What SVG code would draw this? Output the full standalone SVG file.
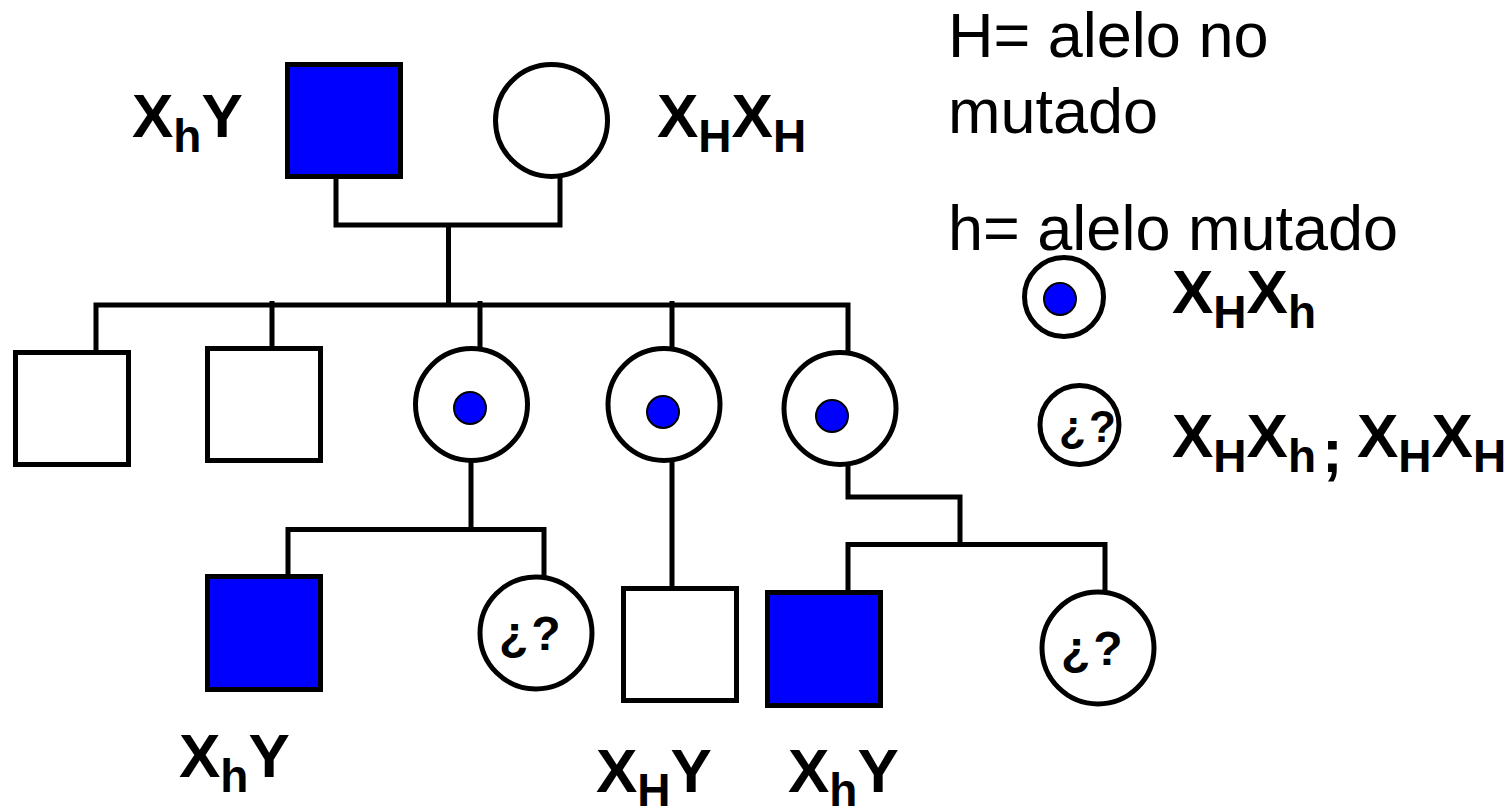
<svg xmlns="http://www.w3.org/2000/svg" width="1508" height="811" viewBox="0 0 1508 811">
  <style>
    .ln{fill:none;stroke:#000;stroke-width:5}
    .shape{stroke:#000;stroke-width:5}
    .aff{fill:#0000FF}
    .unaff{fill:#FFFFFF}
    .dot{fill:#0000FF;stroke:#000;stroke-width:2}
    .lbl{font-family:"Liberation Sans",Arial,sans-serif;font-weight:bold;font-size:62px;fill:#000}
    .sub{font-size:46px}
    .q{font-family:"Liberation Sans",Arial,sans-serif;font-weight:bold;font-size:48px;fill:#000}
    .leg{font-family:"Liberation Sans",Arial,sans-serif;font-size:63px;fill:#000}
  </style>
  <rect width="1508" height="811" fill="#FFFFFF"/>

  <!-- lines of descent -->
  <g id="connectors" class="ln">
    <polyline points="336,176 336,225 560,225 560,176"/>
    <line x1="448.5" y1="225" x2="448.5" y2="305"/>
    <polyline points="96,352 96,305 848,305 848,352"/>
    <line x1="272" y1="301" x2="272" y2="348"/>
    <line x1="480" y1="301" x2="480" y2="349"/>
    <line x1="672" y1="301" x2="672" y2="349"/>
    <line x1="471" y1="460" x2="471" y2="529.5"/>
    <polyline points="288,576 288,529.5 544,529.5 544,577"/>
    <line x1="672" y1="460" x2="672" y2="588"/>
    <polyline points="848,464 848,497 960,497 960,544.5"/>
    <polyline points="848,592 848,544.5 1105,544.5 1105,592"/>
  </g>

  <!-- generation I -->
  <g id="father">
    <rect class="shape aff" x="287.5" y="64.5" width="113" height="112"/>
    <text class="lbl" x="132" y="137">X<tspan class="sub" dy="15">h</tspan><tspan dy="-15">Y</tspan></text>
  </g>
  <g id="mother">
    <circle class="shape unaff" cx="551.5" cy="120.5" r="56"/>
    <text class="lbl" x="657" y="137">X<tspan class="sub" dy="15">H</tspan><tspan dy="-15">X</tspan><tspan class="sub" dy="15">H</tspan></text>
  </g>

  <!-- generation II -->
  <g id="son1">
    <rect class="shape unaff" x="15.5" y="352.5" width="113" height="112"/>
  </g>
  <g id="son2">
    <rect class="shape unaff" x="207.5" y="348.5" width="113" height="112"/>
  </g>
  <g id="daughter1">
    <circle class="shape unaff" cx="471.5" cy="404.5" r="56"/>
    <circle class="dot" cx="470" cy="408" r="16"/>
  </g>
  <g id="daughter2">
    <circle class="shape unaff" cx="664" cy="404.5" r="56"/>
    <circle class="dot" cx="663" cy="412" r="16"/>
  </g>
  <g id="daughter3">
    <circle class="shape unaff" cx="840" cy="408.5" r="56"/>
    <circle class="dot" cx="832" cy="416" r="16"/>
  </g>

  <!-- generation III -->
  <g id="grandson1">
    <rect class="shape aff" x="207.5" y="576.5" width="113" height="113"/>
    <text class="lbl" x="179" y="777">X<tspan class="sub" dy="15">h</tspan><tspan dy="-15">Y</tspan></text>
  </g>
  <g id="granddaughter1">
    <circle class="shape unaff" cx="536" cy="633" r="56"/>
    <text class="q" x="499" y="650">¿<tspan dx="3">?</tspan></text>
  </g>
  <g id="grandson2">
    <rect class="shape unaff" x="623.5" y="588.5" width="113" height="112"/>
    <text class="lbl" x="596" y="792">X<tspan class="sub" dy="14">H</tspan><tspan dy="-14">Y</tspan></text>
  </g>
  <g id="grandson3">
    <rect class="shape aff" x="767.5" y="592.5" width="113" height="113"/>
    <text class="lbl" x="788" y="792">X<tspan class="sub" dy="14">h</tspan><tspan dy="-14">Y</tspan></text>
  </g>
  <g id="granddaughter2">
    <circle class="shape unaff" cx="1098" cy="648" r="56"/>
    <text class="q" x="1061" y="665">¿<tspan dx="3">?</tspan></text>
  </g>

  <!-- key -->
  <g id="legend">
    <text class="leg" x="948" y="57">H= alelo no</text>
    <text class="leg" x="948" y="133">mutado</text>
    <text class="leg" x="948" y="250">h= alelo mutado</text>
    <circle class="shape unaff" cx="1064" cy="297" r="39.5"/>
    <circle class="dot" cx="1060" cy="299" r="16"/>
    <text class="lbl" x="1172" y="313">X<tspan class="sub" dy="15">H</tspan><tspan dy="-15">X</tspan><tspan class="sub" dy="15">h</tspan></text>
    <circle class="shape unaff" cx="1079.5" cy="425" r="39.5"/>
    <text class="q" x="1059" y="442" style="font-size:44px">¿<tspan dx="3">?</tspan></text>
    <text class="lbl" x="1172" y="457">X<tspan class="sub" dy="15">H</tspan><tspan dy="-15">X</tspan><tspan class="sub" dy="15">h</tspan><tspan x="1322">;</tspan><tspan x="1357" dy="-15">X</tspan><tspan class="sub" dy="15">H</tspan><tspan dy="-15">X</tspan><tspan class="sub" dy="15">H</tspan></text>
  </g>
</svg>
